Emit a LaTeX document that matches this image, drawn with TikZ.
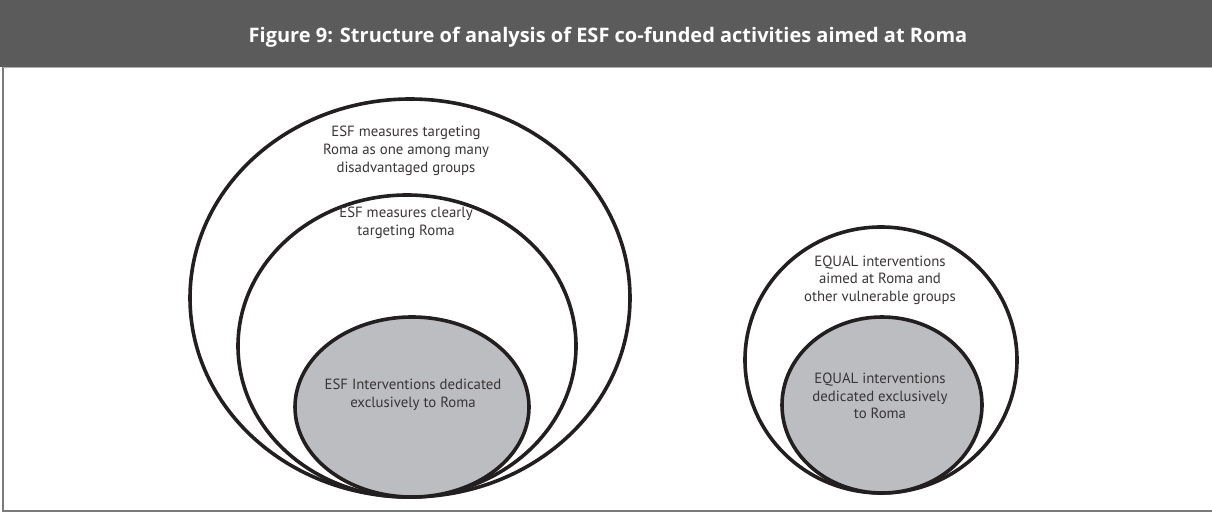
\documentclass[tikz,border=0pt]{standalone}
\usepackage{fontspec}
\setmainfont{PT Sans}
\newfontfamily\headfont{Open Sans}
\begin{document}
\begin{tikzpicture}[x=1pt,y=-1pt,
  ring/.style={draw=ink,line width=3.6pt,fill=white},
  core/.style={draw=ink,line width=3.6pt,fill=coregray},
  lbl/.style={align=center,font=\fontsize{14.8}{17.7}\selectfont,text=ink!90},
]
\definecolor{ink}{HTML}{231F20}
\definecolor{coregray}{HTML}{BCBDC0}
\definecolor{head}{HTML}{5B5B5B}
\definecolor{frame}{HTML}{7A7A7A}
\useasboundingbox (0,0) rectangle (1212,513);
\fill[white] (0,0) rectangle (1212,513);
% frame and title bar
\draw[frame,line width=1.6pt] (3,0) -- (3,511) -- (1212,511);
\fill[head] (0,0) rectangle (1212,67);
\draw[frame!60,line width=1pt] (3,68) -- (1212,68);
\node[text=white,font=\headfont\bfseries\fontsize{20}{24}\selectfont] (title) at (608,37)
  {Figure 9: Structure of analysis of ESF co-funded activities aimed at Roma};
% left nested set
\draw[ring] (410,298) ellipse [x radius=220,y radius=199];
\draw[ring] (407,346) ellipse [x radius=169,y radius=151];
\draw[core] (412,407) ellipse [x radius=117,y radius=90];
\node[lbl] (esfall) at (406,151) {ESF measures targeting\\Roma as one among many\\disadvantaged groups};
\node[lbl] (esfclear) at (406,223) {ESF measures clearly\\targeting Roma};
\node[lbl] (esfded) at (413,395) {ESF Interventions dedicated\\exclusively to Roma};
% right nested set
\draw[ring] (881,360) ellipse [x radius=136,y radius=133];
\draw[core] (882,405) ellipse [x radius=100,y radius=88];
\node[lbl] (eqall) at (880,280) {EQUAL interventions\\aimed at Roma and\\other vulnerable groups};
\node[lbl] (eqded) at (880,396) {EQUAL interventions\\dedicated exclusively\\to Roma};
\end{tikzpicture}
\end{document}
